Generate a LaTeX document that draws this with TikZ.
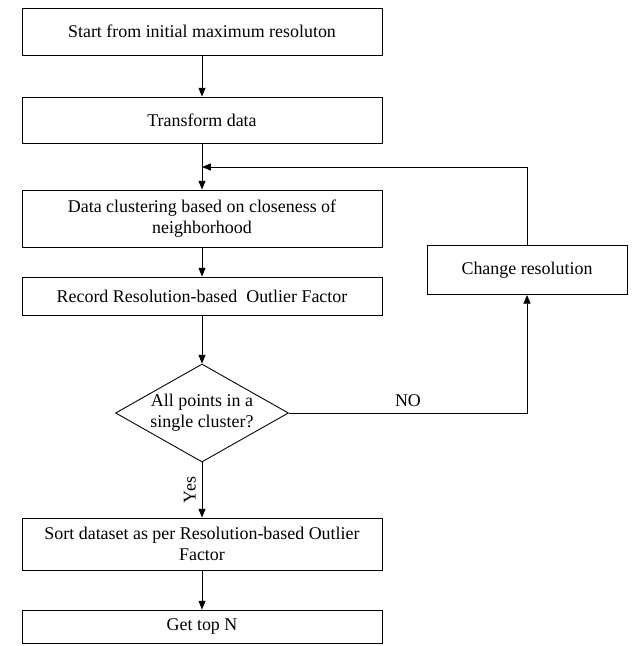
\documentclass[tikz,border=0pt]{standalone}
\usepackage{fontspec}
\setmainfont{Liberation Serif}
\usepackage{tikz}
\usetikzlibrary{shapes.geometric,arrows.meta}

\begin{document}
\begin{tikzpicture}[x=0.02cm,y=-0.02cm,->,>={Triangle[length=5pt,width=4pt]},line width=0.5pt,font=\fontsize{10.2}{12}\selectfont,
  block/.style={draw,rectangle,minimum width=7.2cm,inner sep=1pt,align=center},
  decision/.style={draw,diamond,aspect=1.77,inner sep=0pt,minimum width=3.46cm,minimum height=1.96cm,align=center}]
\useasboundingbox (0,0) rectangle (633,646);
\node[block,minimum height=0.94cm] (start) at (202,31.5) {Start from initial maximum resoluton};
\node[block,minimum height=0.92cm] (transform) at (202,120) {Transform data};
\node[block,minimum height=1.14cm] (cluster) at (202,218.5) {Data clustering based on closeness of\\neighborhood};
\node[block,minimum height=0.76cm] (record) at (202,296) {Record Resolution-based~ Outlier Factor};
\node[decision] (single) at (202,413) {All points in a\\single cluster?};
\node[block,minimum height=1.04cm] (sortd) at (202,544) {Sort dataset as per Resolution-based Outlier\\Factor};
\node[block,minimum height=0.66cm] (gettop) at (202,626.5) {Get top N};
\node[draw,rectangle,minimum width=4cm,minimum height=0.98cm] (change) at (527,270) {Change resolution};
\coordinate (join) at (202,167);

\path (start) edge (transform)
(transform) edge (cluster)
(cluster) edge (record)
(record) edge (single)
(sortd) edge (gettop);
\draw (single) -- node[rotate=90,anchor=south] {Yes} (sortd);
\draw (single.east) -| node[pos=0.25,above] {NO} (change.south);
\draw (change.north) |- (join);
\end{tikzpicture}
\end{document}
